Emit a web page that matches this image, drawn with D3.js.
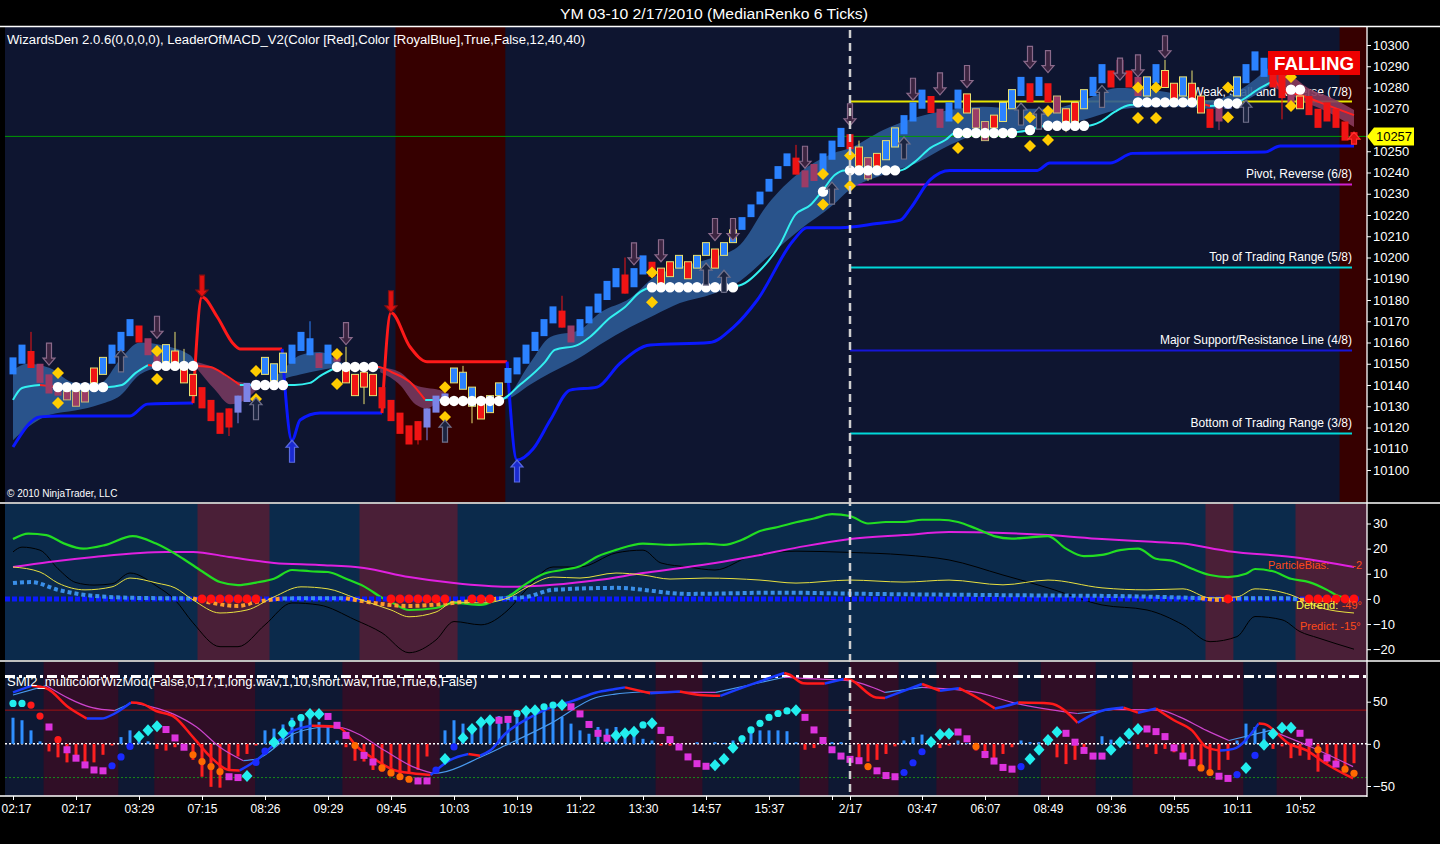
<!DOCTYPE html>
<html><head><meta charset="utf-8">
<script src="https://cdn.jsdelivr.net/npm/d3@7"></script>
<style>html,body{margin:0;background:#000;overflow:hidden}svg{display:block}text{font-family:"Liberation Sans",Arial,sans-serif}</style>
</head><body><svg id="c" width="1440" height="844"></svg>
<script>
// ---------------- DATA ----------------
const title = "YM 03-10  2/17/2010 (MedianRenko 6 Ticks)";
const headerText = "WizardsDen 2.0.6(0,0,0,0),  LeaderOfMACD_V2(Color [Red],Color [RoyalBlue],True,False,12,40,40)";
const smiLabel = "SMI2_multicolorWizMod(False,0,17,1,long.wav,1,10,short.wav,True,True,6,False)";
const tickIdx = [0,7,14,21,28,35,42,49,56,63,70,77,84,91,93,101,108,115,122,129,136,143];
const tickLabels = ["02:17","02:17","03:29","07:15","08:26","09:29","09:45","10:03","10:19","11:22","13:30","14:57","15:37","","2/17","03:47","06:07","08:49","09:36","09:55","10:11","10:52"];
// 10260 sits under the last-price marker in the reference
const priceTicks = [10100,10110,10120,10130,10140,10150,10160,10170,10180,10190,10200,10210,10220,10230,10240,10250,10270,10280,10290,10300];

const barOpen = [10145,10150,10156,10150,10145,10141,10137,10137,10137,10148,10145,10150,10156,10163,10168,10162,10154,10151,10156,10148,
10145,10139,10133,10127,10129,10127,10132,10138,10145,10142,10146,10150,10156,10154,10155,10150,10156,10147,10145,10146,
10145,10139,10133,10127,10121,10123,10120,10127,10133,10141,10138,10130,10131,10127,10135,10141,10145,10150,10156,10163,
10169,10175,10168,10163,10169,10174,10180,10186,10192,10186,10192,10198,10195,10198,10195,10198,10195,10201,10204,10201,
10207,10213,10219,10225,10231,10237,10243,10247,10241,10244,10240,10246,10252,10258,10252,10247,10249,10246,10252,10258,
10264,10270,10276,10270,10264,10270,10277,10270,10264,10267,10264,10270,10276,10282,10276,10282,10276,10270,10273,10270,
10276,10282,10288,10293,10288,10285,10276,10282,10288,10282,10276,10282,10276,10270,10273,10270,10276,10282,10288,10285,
10288,10286,10280,10276,10276,10270,10273,10270,10264,10259];
const barClose = [10153,10159,10148,10141,10136,10135,10133,10130,10132,10141,10153,10159,10165,10171,10160,10154,10149,10159,10148,10141,
10135,10129,10123,10117,10120,10135,10141,10142,10153,10150,10155,10159,10165,10162,10148,10159,10151,10141,10135,10139,
10135,10129,10123,10117,10112,10114,10129,10135,10136,10148,10146,10139,10124,10135,10141,10148,10153,10159,10165,10171,
10177,10167,10160,10171,10177,10183,10189,10195,10183,10195,10201,10191,10186,10191,10201,10190,10201,10207,10195,10207,
10213,10219,10225,10231,10237,10243,10249,10239,10233,10236,10249,10255,10261,10251,10243,10237,10243,10255,10261,10267,
10273,10279,10268,10261,10273,10279,10268,10261,10255,10261,10273,10279,10285,10273,10285,10273,10268,10264,10264,10279,
10285,10291,10280,10285,10280,10276,10285,10291,10280,10273,10285,10273,10268,10261,10264,10274,10285,10291,10297,10294,
10280,10275,10272,10270,10267,10261,10264,10261,10255,10256];
const barType = ("BBRMMMmmmrbBBBRMMbrrrRRRRNNNbbbBBBMBMrrrrRRRRRNNNbbbrbbBBBBBBRMBBBBBRBBRrrbrbbrbbBBBBBBRMMBBBRrmrbbBBBRMBBrmmrbbBRBRmrrbBBRMRMbBrrbrrRMNbBBBRRMrRRRRRR").split("");
const wicks = [[2,10165,10148],[18,10165,10148],[19,10157,10141],[24,10129,10116],[25,10135,10122],[33,10170,10154],[37,10158,10141],[39,10146,10131],[45,10123,10112],[46,10129,10114],[50,10149,10138],[51,10139,10122],[61,10182,10167],[68,10200,10183],[87,10253,10239],[94,10255,10243],[95,10247,10236],[109,10267,10257],[117,10270,10259],[128,10293,10280],[131,10288,10273],[134,10273,10260],[141,10286,10265]];

const bandPts = [
[0,10147,10114,0],[1.6,10150,10120,0],[4.1,10148,10126,0],[6.9,10141,10128,0],[9.7,10141,10131,0],[11.9,10152,10135,0],[14.1,10160,10145,0],[16.3,10159,10148,0],[19.7,10154,10148.5,0],[20.2,10151,10149,0],
[20.2,10151,10149,1],[22.4,10148,10138,1],[24.1,10143,10131,1],[25.8,10141,10133,1],[27.4,10140,10138.5,1],[28.5,10140,10139.5,1],
[28.5,10141,10139,2],[30.2,10148,10143,2],[31.9,10154,10145,2],[34.1,10155.5,10147,2],[36.9,10150,10148.5,2],[40.8,10148.5,10147.5,2],
[40.8,10148.5,10146,3],[43,10146,10140,3],[44.7,10140,10131,3],[46,10138.6,10129,3],[47.4,10137.6,10133,3],[48.2,10136,10135,3],
[54.2,10134,10133,4],[54.9,10135,10133.4,4],[57.4,10150,10140,4],[59.7,10162.6,10145.6,4],[63,10166,10153,4],[65.2,10174,10159,4],[68.6,10181,10167.3,4],[71.3,10191,10173,4],[74.1,10195.5,10178.6,4],[77.8,10200,10183,4],[80.8,10206,10189,4],[83.8,10224.7,10200,4],[87.4,10240,10213,4],[91.1,10249,10224.7,4],[93,10251.5,10232,4],[96.7,10260,10239,4],[100.4,10266,10244.5,4],[104.1,10269.4,10253,4],[107.8,10271,10258.6,4],[111.6,10270,10260,4],[115.2,10270,10261.4,4],[118.9,10274,10264.7,4],[122.7,10279.8,10269.4,4],[126.3,10279,10271,4],[130,10276.5,10271,4],[133,10274,10270,4],[136.3,10278.8,10272.7,4],[139.6,10289.6,10281,4],
[139.6,10289.6,10281,5],[141.9,10286,10276.5,5],[143.8,10280,10272.7,5],[146.3,10275.5,10268,5],[149,10269.4,10261.4,5]];
const bandSegTrend = ["up","dn","up","dn","up","dn"];

const maPts = [[0,10133,'c'],[1,10138.6,'c'],[3,10140,'r'],[5,10139,'c'],[10.4,10139,'c'],[12.1,10140,'c'],[13.6,10145.6,'c'],[15,10149.4,'r'],[16,10149,'r'],[20.2,10149,'r'],[21.9,10148.5,'r'],[23.6,10144.7,'r'],[25.2,10140,'c'],[27,10140,'c'],[30,10140,'c'],[31.3,10140,'c'],[33,10141,'c'],[34.1,10144.2,'c'],[35.8,10148,'r'],[36,10148.5,'r'],[40.6,10148.5,'r'],[42.1,10146,'r'],[44.1,10141.4,'r'],[45.8,10133,'c'],[47.4,10133,'c'],[54.1,10133,'c'],[56.3,10140,'c'],[59.1,10150.8,'c'],[60.2,10156.5,'c'],[62.7,10158.8,'c'],[64.1,10162.6,'c'],[66.3,10171.5,'c'],[68,10176.7,'c'],[69.7,10183.8,'c'],[70.8,10185.6,'c'],[80.4,10186.6,'c'],[83,10194,'c'],[85.2,10206,'c'],[86.9,10220,'c'],[88.6,10224.7,'c'],[90,10231.8,'c'],[91.3,10238.8,'c'],[92.4,10241,'c'],[98.6,10241,'c'],[100.2,10245,'c'],[101.9,10251.5,'c'],[103.6,10255.3,'c'],[104.7,10258.6,'c'],[111.3,10259,'c'],[113,10260,'c'],[114.7,10262,'c'],[119.4,10262,'c'],[120.8,10263.8,'c'],[122.4,10268.5,'c'],[124.1,10271.8,'c'],[131.6,10273,'r'],[133,10271.3,'c'],[135.8,10272.7,'c'],[138.6,10279.8,'c'],[140.2,10283.5,'r'],[141.3,10278,'r'],[143,10276.5,'r'],[145.2,10273,'r'],[149,10267,'r']];
const flatRuns = [[5,10,10139],[16,20,10149],[27,30,10140],[36,40,10148.5],[48,54,10132.5],[71,80,10186],[90,90,10231],[93,98,10241],[105,111,10258.6],[113,113,10260],[115,119,10262],[125,131,10273],[134,136,10272.5],[142,143,10279]];

const stopPts = [[0,10110.8,'b'],[3,10125,'b'],[5.2,10125.4,'b'],[13,10125.4,'b'],[14.9,10131,'b'],[20,10131.5,'r'],[21,10181.4,'r'],[22.7,10172,'r'],[24.4,10159.8,'r'],[25.2,10157,'r'],[29.9,10157,'b'],[31,10114,'b'],[31.9,10123.5,'b'],[34.1,10126.8,'b'],[41,10126.8,'r'],[42,10174,'r'],[44.1,10158,'r'],[46,10151,'r'],[54.9,10151,'b'],[56,10104.7,'b'],[57.8,10110,'b'],[59.7,10123.5,'b'],[61.9,10137.6,'b'],[64.9,10139,'b'],[67.4,10150,'b'],[70.8,10158.8,'b'],[77.4,10160,'b'],[80,10167,'b'],[82.7,10180,'b'],[86.7,10208,'b'],[88.2,10214,'b'],[91.9,10214,'b'],[96,10216,'b'],[98.6,10217.6,'b'],[99.7,10223,'b'],[101.9,10236.5,'b'],[104.1,10241,'b'],[113.8,10241,'b'],[115.2,10244.5,'b'],[121.9,10244.5,'b'],[124.4,10249,'b'],[139.1,10249.6,'b'],[140.8,10252.5,'b'],[149,10252.5,'b']];

const downArrows = [[4,10149.4],[16,10162],[37,10159],[69,10196.5],[72,10198],[78,10208],[80,10208],[88,10242],[93,10262],[100,10274],[103,10276.5],[106,10280],[113,10289],[115,10287],[123,10283.5],[125,10285],[128,10294]];
const upArrows = [[12,10156.5],[27,10134],[48,10123.5],[77,10197.4],[79,10194],[91,10235.5],[99,10256.7],[112,10272.7],[114,10270.8],[121,10281],[137,10274]];
const reverseDown = [[21,10181.4],[42,10174]];
const reverseUp = [[31,10114],[56,10104.7]];
const diamonds = [[5,10145.6],[5,10131.5],[16,10156],[16,10142.8],[27,10146.6],[27,10133.4],[36,10154.6],[36,10140.5],[48,10139],[48,10125],[71,10193],[71,10179],[90,10239.3],[90,10225],[93,10248],[93,10233.6],[105,10265.6],[105,10251.5],[113,10266],[113,10252.5],[115,10269],[115,10255.3],[125,10280],[125,10265.6],[127,10280],[127,10265.6],[135,10280],[135,10266],[142,10285],[142,10271.3]];

const murreyLevels = [10273.4,10234.4,10195.3,10156.25,10117.2];
const murreyLabels = ["Weak, Stall and Reverse (7/8)","Pivot, Reverse (6/8)","Top of Trading Range (5/8)","Major Support/Resistance Line (4/8)","Bottom of Trading Range (3/8)"];
const lastPrice = 10257;
const mainRedZones = [[42.5,54.7],[147.4,151]];

// middle panel
const midZones = [[20.5,28.5],[38.5,49.4],[132.5,135.6],[142.5,151]];
const greenPts = [[0,23.8],[1.7,26],[3.7,25.4],[5.7,22],[7.8,20],[10.2,21.4],[13.3,25],[15.9,22],[18.9,16],[21,11],[23,6.7],[25,5.5],[27,6.5],[29,8],[31,11.5],[33,11],[35,10.7],[37,8],[39,5],[41,0.5],[42,-1.2],[44,-4.4],[47,-3.6],[49,-1.6],[52,-2.4],[54,0],[55,1],[57,6],[59,10],[61,11.5],[63,13],[65,17],[67,19.5],[70,22],[73,21.5],[77,22],[79,21.5],[81,23.5],[83,27],[85,28.6],[87,30.5],[89,32],[91,33.7],[93,33],[95,30],[97,30.6],[99,30.6],[101,31.5],[103,31.5],[105,30.6],[107,28],[109,25],[111,24],[113,24.5],[115,25],[117,20],[119,17],[121,17.5],[123,19.4],[125,20],[127,16],[129,15],[131,12],[133,9.5],[135,8.7],[137,10],[138,11.9],[140,11],[142,8],[144,6.7],[146,3.6],[147,1.6],[149,0]];
const magentaPts = [[0,12.7],[4,14.7],[9,16.7],[17,18.7],[20,18.7],[24,16.7],[29,14.3],[34,13.5],[39,12.3],[44,8.7],[49,6.3],[55,4.8],[60,5.6],[65,7.5],[70,10.3],[75,12.7],[78,14.3],[83,17.5],[88,21],[93,23.8],[99,25.4],[104,26.6],[110,26.2],[115,25.4],[121,23.8],[126,22.8],[130,22],[135,19],[143,16.3],[149,12.7]];
const yellowPts = [[0,12.7],[3,10.7],[5,6.3],[8,3.6],[11,4.8],[13,8.3],[16,6.3],[18,4.4],[20,-0.4],[23,-5.6],[26,-4.4],[29,0.8],[32,4.8],[35,4],[38,0.4],[42,-4.4],[44,-7.1],[47,-5.2],[49,-1.2],[52,-1.6],[55,0.4],[57,4.4],[60,8.7],[63,8.3],[67,10.3],[70,9.5],[73,7.9],[77,8.3],[83,7.5],[87,6.3],[93,7.5],[99,6.7],[104,7.5],[110,5.6],[115,7.5],[121,4.4],[126,3.6],[130,4],[133,0.4],[136,0.8],[138,4],[142,1.6],[145,-3.2],[149,-5.6]];
const blackPts = [[0,18.7],[1,20.6],[3,19.4],[5,12],[7,6.5],[9,5.5],[11,6],[13,10.3],[16,5],[18,-0.4],[20,-9.5],[23,-19],[25,-19],[28,-10.3],[31,-1.6],[34,-2.4],[38,-8.3],[41,-13.5],[44,-21.4],[47,-16.3],[49,-9],[52,-10.3],[55,-4.4],[57,3.6],[60,12.7],[63,12.7],[67,18.3],[70,19.4],[72,14.3],[75,12.7],[78,11.5],[82,17],[87,19],[93,18.5],[99,17.5],[104,15.5],[110,9.5],[115,4.4],[121,-2.4],[126,-4.4],[130,-10.3],[133,-17],[136,-15],[138,-7],[141,-8.3],[143,-13],[145,-15.5],[149,-20]];
const trendPts = [[0,6.3],[2,6.7],[5,3.6],[9,1.2],[14,0.4],[20,0.2],[22,-1.5],[25,-2.8],[27,-1.2],[30,0.2],[37,0.3],[39,-1],[44,-2.8],[50,-1.2],[54,0.2],[57,0.8],[60,3.6],[67,4.4],[75,2],[85,2.5],[95,2],[110,1.5],[125,1],[132,0.3],[134,-0.4],[136,0.2],[141,0.3],[143,-0.3],[149,-0.5]];
const redDotsIdx = [21,22,23,24,25,26,27,42,43,44,45,46,47,48,51,52,53,135,144,145,146,147,148,149];

// bottom panel
const botZones = [[3.4,11.7],[15.7,26.9],[36.6,47.4],[71.4,76.6],[87.4,90.6],[93,98.4],[102.6,111.7],[114.2,120.3],[124.4,136.7],[140.4,151]];
const histVals = [31,28,16,3,-9,-16,-22,-16,-22,-22,-13,-2,8,16,10,3,-6,-8,-4,-2,-19,-39,-51,-52,-31,-15,-12,-2,16,18,23,31,35,39,26,22,4,-4,-20,-21,-31,-33,-35,-37,-35,-31,-15,0,16,28,24,20,22,28,33,30,32,36,40,41,42,32,24,16,12,20,18,20,16,12,6,4,-2,-2,-4,0,2,0,2,1,4,10,16,16,16,16,15,2,-7,-5,2,2,2,0,-16,-21,-19,-12,-3,4,8,11,2,-5,-2,4,1,-8,-17,-23,-12,-4,4,2,2,1,-16,-24,-19,-6,0,9,5,6,3,-6,-4,-12,-6,-10,-12,-19,-27,-31,-31,-19,4,24,20,18,-6,-3,-17,-14,-19,-33,-23,-27,-27,-23];
const waveVals = [48,48,46,33,20,5,-7,-17,-25,-31,-32,-26,-15.5,-3,8.6,16,21,17,7,-4,-13,-21,-27,-33,-39,-40,-38,-22,-8.6,2,12.5,24,31,35.5,35.5,32.5,22,10,-2,-13.7,-21.5,-28.6,-34.5,-39,-42,-44,-44,-31,-18,-3.7,7,17.6,25.5,28,28,29,36,39,40,44,46,46,44,35.5,23,12.5,6.7,9.8,12.5,14.5,22.5,24.3,16,5,-3.7,-15.5,-23.5,-26.6,-25.5,-18,-4.5,6,16.5,24.3,31.4,36,39,40,31.4,16.5,4,-7,-14.5,-18.4,-20,-27,-32,-37.6,-39,-34,-22.4,-9.4,2.3,11,12,14,6,-3,-12.6,-20.4,-28,-30,-27,-18,-7,4.7,14,12.5,2,-7.8,-14.5,-14.5,-7,2,12,17.6,17.6,14.5,8.6,-4.7,-14.5,-22.4,-28.6,-34,-38.4,-41,-36.5,-28.6,-13.7,-1,12,19,19,12.5,2,-7,-16.7,-24,-30,-35];
const waveType = ("CCRRMRMMMMMBBBDDDMMMOOOOMMDBBDDCCDDMMMOMMOOOOMMBDBDDDDMMCDDCCDMMMMMDDDCDMMMMMMDDDCCCCCCDMMMMMMMOMMMBBBDDDMMOMMMMBDDDDMMMMMDDDDMMMMMMOOMMBDBDDDDMMOMMOO").split("");
const smiFast = [[0,61],[2.1,69],[3.7,66],[6.2,43],[8.2,30],[9.8,30],[11.3,36],[13.1,49],[14.2,48],[15.9,39],[17.9,32],[20,8],[22,-16],[24,-31],[25.2,-31.5],[27.1,-19],[29.1,0],[31.2,16],[33.2,21.6],[35.2,21],[36.3,19],[38.3,-4],[40.3,-19],[42.3,-31],[44.4,-35],[46.4,-37],[48.6,-19],[50.6,-12],[51.9,-14],[53,-8],[54.7,12],[57.2,30],[59.7,43],[62.2,51],[64.8,61],[66.9,65],[68,67],[70.8,60],[74.1,62],[76.3,58],[78.6,57],[81.9,70],[85.7,84],[86.3,82],[87.8,72],[90.2,71.5],[92.3,77],[93,76],[95.9,55],[96.9,54.5],[101,71],[103,63],[105.1,66],[107.1,55],[109.1,42],[110,44],[111.7,49],[115.2,48],[118.3,25],[120.9,39],[123.4,43],[125,37],[127,42],[129,28],[131,16],[132.6,-4],[134.1,-8],[135.6,-6],[138.4,24],[139,23.5],[141.8,0],[143.8,-8],[145.8,-23],[148.9,-41]];
const smiSlow = [[0,58],[3.7,69],[8.8,43],[11.3,39.5],[13.3,49],[17.9,35],[20.4,20],[23,-4],[25.6,-20],[27.1,-18],[31.2,12],[34.2,20],[36.3,19.5],[38.3,12],[41.3,-8],[44.4,-27],[46.7,-35],[47.4,-34.5],[52.1,-15],[54.7,-2],[59.7,24],[64.8,55],[66.9,59],[69.7,61.5],[78.1,61],[85.7,79],[87.4,78],[92.8,75],[96.9,61],[101,67],[107.1,61],[111.1,49],[118.3,36],[122.3,41],[127.4,40],[129.6,32],[132.6,16],[135.1,4],[139.7,16],[144.3,-4],[148.9,-27]];

// ---------------- DRAW ----------------
const svg = d3.select('#c');
const X0 = 5, X1 = 1367;
const x = d3.scaleLinear().domain([0,149]).range([13,1354]);
const yP = d3.scaleLinear().domain([10100,10300]).range([470,45]);
const yM = d3.scaleLinear().domain([-20,30]).range([649.2,523.5]);
const yS = d3.scaleLinear().domain([-50,50]).range([786,701.7]);
const panels = {main:[27,502], mid:[504,660], bot:[662,796]};

svg.append('rect').attr('width',1440).attr('height',844).attr('fill','#000');
const defs = svg.append('defs');
Object.entries(panels).forEach(([k,[a,b]])=>{
  defs.append('clipPath').attr('id','clip-'+k).append('rect').attr('x',X0).attr('y',a).attr('width',X1-X0).attr('height',b-a);
});
const gMain = svg.append('g').attr('clip-path','url(#clip-main)');
const gMid = svg.append('g').attr('clip-path','url(#clip-mid)');
const gBot = svg.append('g').attr('clip-path','url(#clip-bot)');

function zoneRect(g, a, b, y0, y1, fill){
  g.append('rect').attr('x',x(a)).attr('y',y0).attr('width',x(b)-x(a)).attr('height',y1-y0).attr('fill',fill);
}
gMain.append('rect').attr('x',X0).attr('y',27).attr('width',X1-X0).attr('height',475).attr('fill','#0e1530');
mainRedZones.forEach(z=>zoneRect(gMain,z[0],z[1],27,502,'#360000'));
gMid.append('rect').attr('x',X0).attr('y',504).attr('width',X1-X0).attr('height',156).attr('fill','#0b2a4b');
midZones.forEach(z=>zoneRect(gMid,z[0],z[1],504,660,'#4a1f37'));
gBot.append('rect').attr('x',X0).attr('y',662).attr('width',X1-X0).attr('height',134).attr('fill','#0e1833');
botZones.forEach(z=>zoneRect(gBot,z[0],z[1],662,796,'#300e26'));

function colouredLine(g, pts, xf, yf, colourOf, width, curve, extra){
  const runs=[]; let cur=null;
  for(let i=0;i<pts.length-1;i++){
    const c = colourOf(i);
    if(!cur || cur.c!==c){ cur={c:c, p:[pts[i]]}; runs.push(cur); }
    cur.p.push(pts[i+1]);
  }
  const ln = d3.line().x(d=>xf(d[0])).y(d=>yf(d[1])).curve(curve||d3.curveMonotoneX);
  runs.forEach(r=>{
    const p = g.append('path').attr('d',ln(r.p)).attr('fill','none').attr('stroke',r.c).attr('stroke-width',width).attr('stroke-linejoin','round');
    if(extra) extra(p);
  });
}

// ---- MAIN PANEL ----
murreyLevels.forEach((lv,i)=>{
  const col = ["#e6e600","#d020d0","#00d8d8","#1515d8","#00d8d8"][i];
  gMain.append('line').attr('x1',x(93)).attr('x2',1352).attr('y1',yP(lv)).attr('y2',yP(lv)).attr('stroke',col).attr('stroke-width',2);
  gMain.append('text').attr('x',1352).attr('y',yP(lv)-6).attr('text-anchor','end').attr('fill','#fff').attr('font-size',12).text(murreyLabels[i]);
});
const area = d3.area().x(d=>x(d[0])).y0(d=>yP(d[2])).y1(d=>yP(d[1])).curve(d3.curveMonotoneX);
bandSegTrend.forEach((t,s)=>{
  const pts = bandPts.filter(d=>d[3]===s);
  gMain.append('path').attr('d',area(pts)).attr('fill', t==='up' ? '#2c5a96' : (s===5 ? '#8a3a5c' : '#74395f')).attr('opacity',0.9);
});
gMain.append('line').attr('x1',X0).attr('x2',X1).attr('y1',yP(lastPrice)).attr('y2',yP(lastPrice)).attr('stroke','#009a00').attr('stroke-width',1);
colouredLine(gMain, stopPts, x, yP, i=>stopPts[i][2]==='r'?'#ff1a1a':'#0a18ff', 3, d3.curveMonotoneX);
colouredLine(gMain, maPts, x, yP, i=>maPts[i][2]==='r'?'#ff2020':'#33f0f0', 2, d3.curveMonotoneX);

const fills = {B:'#2b82ff',R:'#f01414',M:'#9c3c66',N:'#7c84e6',b:'#2b82ff',r:'#f01414',m:'#9c3c66'};
const outl = {b:'#e8e070',r:'#e8e070',m:'#c8b878'};
wicks.forEach(w=>{
  const t = barType[w[0]];
  gMain.append('line').attr('x1',x(w[0])).attr('x2',x(w[0])).attr('y1',yP(w[1])).attr('y2',yP(w[2])).attr('stroke',outl[t]||fills[t]).attr('stroke-width',1);
});
barOpen.forEach((o,i)=>{
  const c = barClose[i], t = barType[i];
  const top = Math.max(o,c), bot = Math.min(o,c);
  const r = gMain.append('rect').attr('x',x(i)-3.5).attr('y',yP(top)).attr('width',7).attr('height',Math.max(2,yP(bot)-yP(top))).attr('fill',fills[t]);
  if(outl[t]) r.attr('stroke',outl[t]).attr('stroke-width',1);
});
flatRuns.forEach(r=>{
  for(let i=r[0];i<=r[1];i++) gMain.append('circle').attr('cx',x(i)).attr('cy',yP(r[2])).attr('r',5.2).attr('fill','#fff');
});
diamonds.forEach(d=>{
  const cx=x(d[0]), cy=yP(d[1]);
  gMain.append('path').attr('d',`M${cx},${cy-6}L${cx+6},${cy}L${cx},${cy+6}L${cx-6},${cy}Z`).attr('fill','#ffcc00');
});
function downArrow(g,cx,tip,fill,stroke,h){
  h=h||22; const t=tip, b=tip-h;
  g.append('path').attr('d',`M${cx},${t}L${cx-6},${t-7}L${cx-2.5},${t-7}L${cx-2.5},${b}L${cx+2.5},${b}L${cx+2.5},${t-7}L${cx+6},${t-7}Z`).attr('fill',fill).attr('stroke',stroke).attr('stroke-width',1.2);
}
function upArrow(g,cx,tip,fill,stroke,h){
  h=h||22; const t=tip, b=tip+h;
  g.append('path').attr('d',`M${cx},${t}L${cx-6},${t+7}L${cx-2.5},${t+7}L${cx-2.5},${b}L${cx+2.5},${b}L${cx+2.5},${t+7}L${cx+6},${t+7}Z`).attr('fill',fill).attr('stroke',stroke).attr('stroke-width',1.2);
}
downArrows.forEach(a=>downArrow(gMain,x(a[0]),yP(a[1]),'#3b2440','#8a6a8a'));
upArrows.forEach(a=>upArrow(gMain,x(a[0]),yP(a[1]),'#1b2440','#70708a'));
reverseDown.forEach(a=>downArrow(gMain,x(a[0]),yP(a[1]),'#e01010','#801010'));
reverseUp.forEach(a=>upArrow(gMain,x(a[0]),yP(a[1]),'#1a2ad0','#5a6ae0'));
upArrow(gMain,x(149),yP(10259),'#e01010','#ff3030',12);

svg.append('text').attr('x',7).attr('y',44).attr('fill','#fff').attr('font-size',12).attr('textLength',578).attr('lengthAdjust','spacingAndGlyphs').text(headerText);
svg.append('text').attr('x',7).attr('y',497).attr('fill','#fff').attr('font-size',10).text('\u00a9 2010 NinjaTrader, LLC');
svg.append('rect').attr('x',1268).attr('y',51).attr('width',92).attr('height',24).attr('fill','#ee0000');
svg.append('text').attr('x',1314).attr('y',70).attr('text-anchor','middle').attr('fill','#fff').attr('font-size',18).attr('font-weight','bold').attr('textLength',80).attr('lengthAdjust','spacingAndGlyphs').text('FALLING');

// ---- MIDDLE PANEL ----
const lnM = d3.line().x(d=>x(d[0])).y(d=>yM(d[1])).curve(d3.curveMonotoneX);
gMid.append('path').attr('d',lnM(blackPts)).attr('fill','none').attr('stroke','#000').attr('stroke-width',1);
gMid.append('path').attr('d',lnM(magentaPts)).attr('fill','none').attr('stroke','#e020e0').attr('stroke-width',2);
gMid.append('path').attr('d',lnM(greenPts)).attr('fill','none').attr('stroke','#22dd22').attr('stroke-width',2.2);
gMid.append('line').attr('x1',X0).attr('x2',X1-8).attr('y1',yM(0)).attr('y2',yM(0)).attr('stroke','#0a1aff').attr('stroke-width',5).attr('stroke-dasharray','5,2');
colouredLine(gMid, trendPts, x, yM, i=>(trendPts[i][1]+trendPts[i+1][1])/2 >= 0 ? '#3a8fe8' : '#ff9a2a', 4, d3.curveMonotoneX, p=>p.attr('stroke-dasharray','4,3'));
gMid.append('path').attr('d',lnM(yellowPts)).attr('fill','none').attr('stroke','#e8e040').attr('stroke-width',1);
redDotsIdx.forEach(i=>gMid.append('circle').attr('cx',x(i)).attr('cy',yM(0)).attr('r',4.5).attr('fill','#ff1010'));
svg.append('text').attr('x',1268).attr('y',569).attr('fill','#ff4a1a').attr('font-size',11).text('ParticleBias:');
svg.append('text').attr('x',1362).attr('y',569).attr('text-anchor','end').attr('fill','#ff4a1a').attr('font-size',11).text('-2');
svg.append('text').attr('x',1296).attr('y',609).attr('fill','#ffff40').attr('font-size',11).text('Detrend:');
svg.append('text').attr('x',1362).attr('y',609).attr('text-anchor','end').attr('fill','#ff4a1a').attr('font-size',11).text('-49\u00b0');
svg.append('text').attr('x',1300).attr('y',630).attr('fill','#ff4a1a').attr('font-size',11).text('Predict:  -15\u00b0');

// ---- BOTTOM PANEL ----
gBot.append('line').attr('x1',X0).attr('x2',X1).attr('y1',yS(80)).attr('y2',yS(80)).attr('stroke','#fff').attr('stroke-width',3).attr('stroke-dasharray','10,4,3,4');
gBot.append('line').attr('x1',X0).attr('x2',X1).attr('y1',yS(40)).attr('y2',yS(40)).attr('stroke','#a01010').attr('stroke-width',1);
gBot.append('line').attr('x1',X0).attr('x2',X1).attr('y1',yS(-40)).attr('y2',yS(-40)).attr('stroke','#1a8a1a').attr('stroke-width',1).attr('stroke-dasharray','2,2');
gBot.append('line').attr('x1',X0).attr('x2',X1).attr('y1',yS(0)).attr('y2',yS(0)).attr('stroke','#fff').attr('stroke-width',1.5).attr('stroke-dasharray','2,2');
histVals.forEach((v,i)=>{
  gBot.append('rect').attr('x',x(i)-1.5).attr('width',3).attr('y',Math.min(yS(0),yS(v))).attr('height',Math.abs(yS(v)-yS(0))).attr('fill', v>=0 ? '#2f8fff' : '#ff2020');
});
colouredLine(gBot, smiSlow, x, yS, i=>smiSlow[i+1][1]>=smiSlow[i][1] ? '#4a9aee' : '#cc44cc', 1.2);
colouredLine(gBot, smiFast, x, yS, i=>smiFast[i+1][1]>=smiFast[i][1] ? '#1a3cff' : '#ff1a1a', 2.5);
waveVals.forEach((v,i)=>{
  const t = waveType[i], cx = x(i), cy = yS(v);
  if(t==='D') gBot.append('path').attr('d',`M${cx},${cy-6}L${cx+5.5},${cy}L${cx},${cy+6}L${cx-5.5},${cy}Z`).attr('fill','#22eeee');
  else if(t==='M') gBot.append('rect').attr('x',cx-3.5).attr('y',cy-3.5).attr('width',7).attr('height',7).attr('fill','#dd33dd');
  else gBot.append('circle').attr('cx',cx).attr('cy',cy).attr('r',3.6).attr('fill', {C:'#22eeee',B:'#1a2aff',R:'#ff1a1a',O:'#ff6a00'}[t]);
});
svg.append('text').attr('x',7).attr('y',686).attr('fill','#fff').attr('font-size',12).attr('textLength',470).attr('lengthAdjust','spacingAndGlyphs').text(smiLabel);

// ---- frame, axes ----
[26.5,503,661].forEach(y=>svg.append('line').attr('x1',0).attr('x2',1440).attr('y1',y).attr('y2',y).attr('stroke','#fff').attr('stroke-width',1.3));
svg.append('line').attr('x1',0).attr('x2',X1).attr('y1',796).attr('y2',796).attr('stroke','#fff').attr('stroke-width',1.3);
svg.append('line').attr('x1',X1).attr('x2',X1).attr('y1',26).attr('y2',797).attr('stroke','#fff').attr('stroke-width',1.3);
svg.append('line').attr('x1',x(93)).attr('x2',x(93)).attr('y1',30).attr('y2',796).attr('stroke','#cfcfcf').attr('stroke-width',2.5).attr('stroke-dasharray','8,5');

function styleAxis(g, fs){
  g.select('.domain').remove();
  g.selectAll('line').attr('stroke','#fff');
  g.selectAll('text').attr('fill','#fff').attr('font-size',fs).attr('font-family','"Liberation Sans",Arial,sans-serif');
}
styleAxis(svg.append('g').attr('transform',`translate(${X1},0)`).call(d3.axisRight(yP).tickValues(priceTicks).tickSize(4).tickPadding(2).tickFormat(d3.format('d'))),13);
styleAxis(svg.append('g').attr('transform',`translate(${X1},0)`).call(d3.axisRight(yM).tickValues([-20,-10,0,10,20,30]).tickSize(4).tickPadding(2)),13);
styleAxis(svg.append('g').attr('transform',`translate(${X1},0)`).call(d3.axisRight(yS).tickValues([-50,0,50]).tickSize(4).tickPadding(2)),13);
const xAx = svg.append('g').attr('transform','translate(0,796)').call(d3.axisBottom(x).tickValues(tickIdx).tickSize(4).tickPadding(4).tickFormat((d,i)=>tickLabels[i]));
styleAxis(xAx,12);
// first label sits at the left edge; anchor it so it stays in view
xAx.selectAll('.tick text').filter((d,i)=>i===0).attr('text-anchor','start').attr('x',-12);

const yl = yP(lastPrice);
svg.append('path').attr('d',`M${X1},${yl}L${X1+7},${yl-9}L${X1+47},${yl-9}L${X1+47},${yl+9}L${X1+7},${yl+9}Z`).attr('fill','#ffff00');
svg.append('text').attr('x',X1+27).attr('y',yl+5).attr('text-anchor','middle').attr('fill','#000').attr('font-size',13).text(String(lastPrice));

svg.append('text').attr('x',714).attr('y',19).attr('text-anchor','middle').attr('fill','#fff').attr('font-size',14).attr('textLength',308).attr('lengthAdjust','spacingAndGlyphs').text(title);
</script></body></html>
